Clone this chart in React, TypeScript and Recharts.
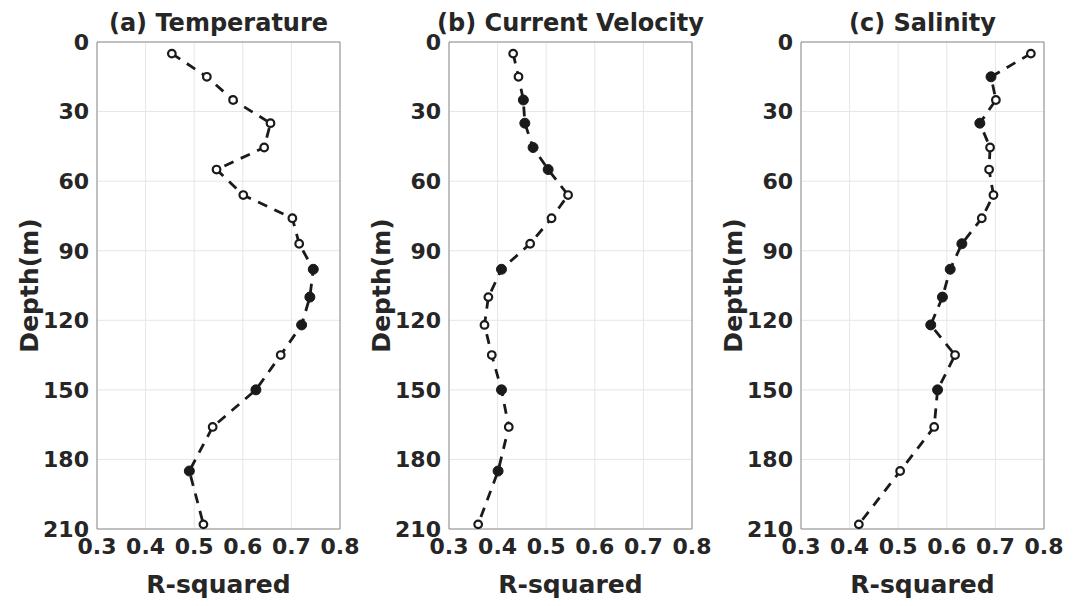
import { ScatterChart, Scatter, XAxis, YAxis, CartesianGrid, ReferenceArea, Label } from 'recharts';

const depths = [5, 15, 25, 35, 45.5, 55, 66, 76, 87, 98, 110, 122, 135, 150, 166, 185, 208];

const tempR2 = [0.454, 0.526, 0.58, 0.657, 0.644, 0.546, 0.601, 0.702, 0.716, 0.745, 0.738, 0.721, 0.678, 0.627, 0.538, 0.49, 0.519];
const velR2 = [0.432, 0.443, 0.453, 0.456, 0.473, 0.504, 0.545, 0.511, 0.467, 0.408, 0.381, 0.373, 0.388, 0.408, 0.423, 0.401, 0.36];
const salR2 = [0.773, 0.691, 0.701, 0.668, 0.689, 0.687, 0.696, 0.672, 0.631, 0.607, 0.591, 0.567, 0.617, 0.581, 0.574, 0.504, 0.419];

// 1 = filled marker, 0 = open marker
const tempFilled = [0, 0, 0, 0, 0, 0, 0, 0, 0, 1, 1, 1, 0, 1, 0, 1, 0];
const velFilled = [0, 0, 1, 1, 1, 1, 0, 0, 0, 1, 0, 0, 0, 1, 0, 1, 0];
const salFilled = [0, 1, 0, 1, 0, 0, 0, 0, 1, 1, 1, 1, 0, 1, 0, 0, 0];

const xTicks = [0.3, 0.4, 0.5, 0.6, 0.7, 0.8];
const yTicks = [0, 30, 60, 90, 120, 150, 180, 210];

const panels = [
  { title: '(a) Temperature', values: tempR2, filled: tempFilled },
  { title: '(b) Current Velocity', values: velR2, filled: velFilled },
  { title: '(c) Salinity', values: salR2, filled: salFilled },
];

const FONT = '"DejaVu Sans", sans-serif';
const TEXT = '#262626';
const INK = '#1a1a1a';

const Marker = (props: any) => {
  const { cx, cy, payload } = props;
  if (cx == null || cy == null) return null;
  return payload.filled ? (
    <circle cx={cx} cy={cy} r={5} fill={INK} stroke={INK} strokeWidth={1} />
  ) : (
    <circle cx={cx} cy={cy} r={3.8} fill="#fff" stroke={INK} strokeWidth={2.2} />
  );
};

const DepthLabel = (props: any) => {
  const vb = props.viewBox || {};
  const x = (vb.x || 0) + 29;
  const y = (vb.y || 0) + (vb.height || 0) / 2;
  return (
    <text
      x={x}
      y={y}
      transform={`rotate(-90 ${x} ${y})`}
      textAnchor="middle"
      dominantBaseline="central"
      fill={TEXT}
      fontFamily={FONT}
      fontWeight="bold"
      fontSize={25}
    >
      Depth(m)
    </text>
  );
};

const Panel = ({ title, values, filled }: { title: string; values: number[]; filled: number[] }) => {
  const data = depths.map((d, i) => ({ depth: d, r: values[i], filled: filled[i] === 1 }));
  const tickStyle = { fill: TEXT, fontFamily: FONT, fontWeight: 'bold', fontSize: 22 };
  return (
    <ScatterChart width={371} height={606} margin={{ top: 42, right: 31, bottom: 0, left: 0 }}>
      <CartesianGrid stroke="#e6e6e6" strokeWidth={1} />
      <XAxis
        type="number"
        dataKey="r"
        domain={[0.3, 0.8]}
        ticks={xTicks}
        tickFormatter={(v: number) => v.toFixed(1)}
        axisLine={false}
        tickLine={false}
        tickSize={0}
        tickMargin={9}
        height={77}
        tick={tickStyle}
        interval={0}
      >
        <Label
          value="R-squared"
          position="insideBottom"
          offset={13}
          fill={TEXT}
          fontFamily={FONT}
          fontWeight="bold"
          fontSize={25}
        />
      </XAxis>
      <YAxis
        type="number"
        dataKey="depth"
        domain={[0, 210]}
        ticks={yTicks}
        reversed
        axisLine={false}
        tickLine={false}
        tickSize={0}
        tickMargin={8}
        width={97}
        tick={tickStyle}
        interval={0}
      >
        <Label content={DepthLabel} />
      </YAxis>
      <ReferenceArea x1={0.3} x2={0.8} y1={0} y2={210} fill="none" stroke="#8c8c8c" strokeWidth={1}>
        <Label
          value={title}
          position="top"
          offset={11}
          fill={TEXT}
          fontFamily={FONT}
          fontWeight="bold"
          fontSize={24}
        />
      </ReferenceArea>
      <Scatter
        data={data}
        line={{ stroke: INK, strokeWidth: 2.8, strokeDasharray: '10 8' }}
        lineType="joint"
        shape={Marker}
        isAnimationActive={false}
      />
    </ScatterChart>
  );
};

export default function App() {
  return (
    <div style={{ position: 'absolute', left: 0, top: 0, width: 1075, height: 606, background: '#fff' }}>
      {panels.map((p, i) => (
        <div key={p.title} style={{ position: 'absolute', left: i * 352, top: 0 }}>
          <Panel title={p.title} values={p.values} filled={p.filled} />
        </div>
      ))}
    </div>
  );
}
